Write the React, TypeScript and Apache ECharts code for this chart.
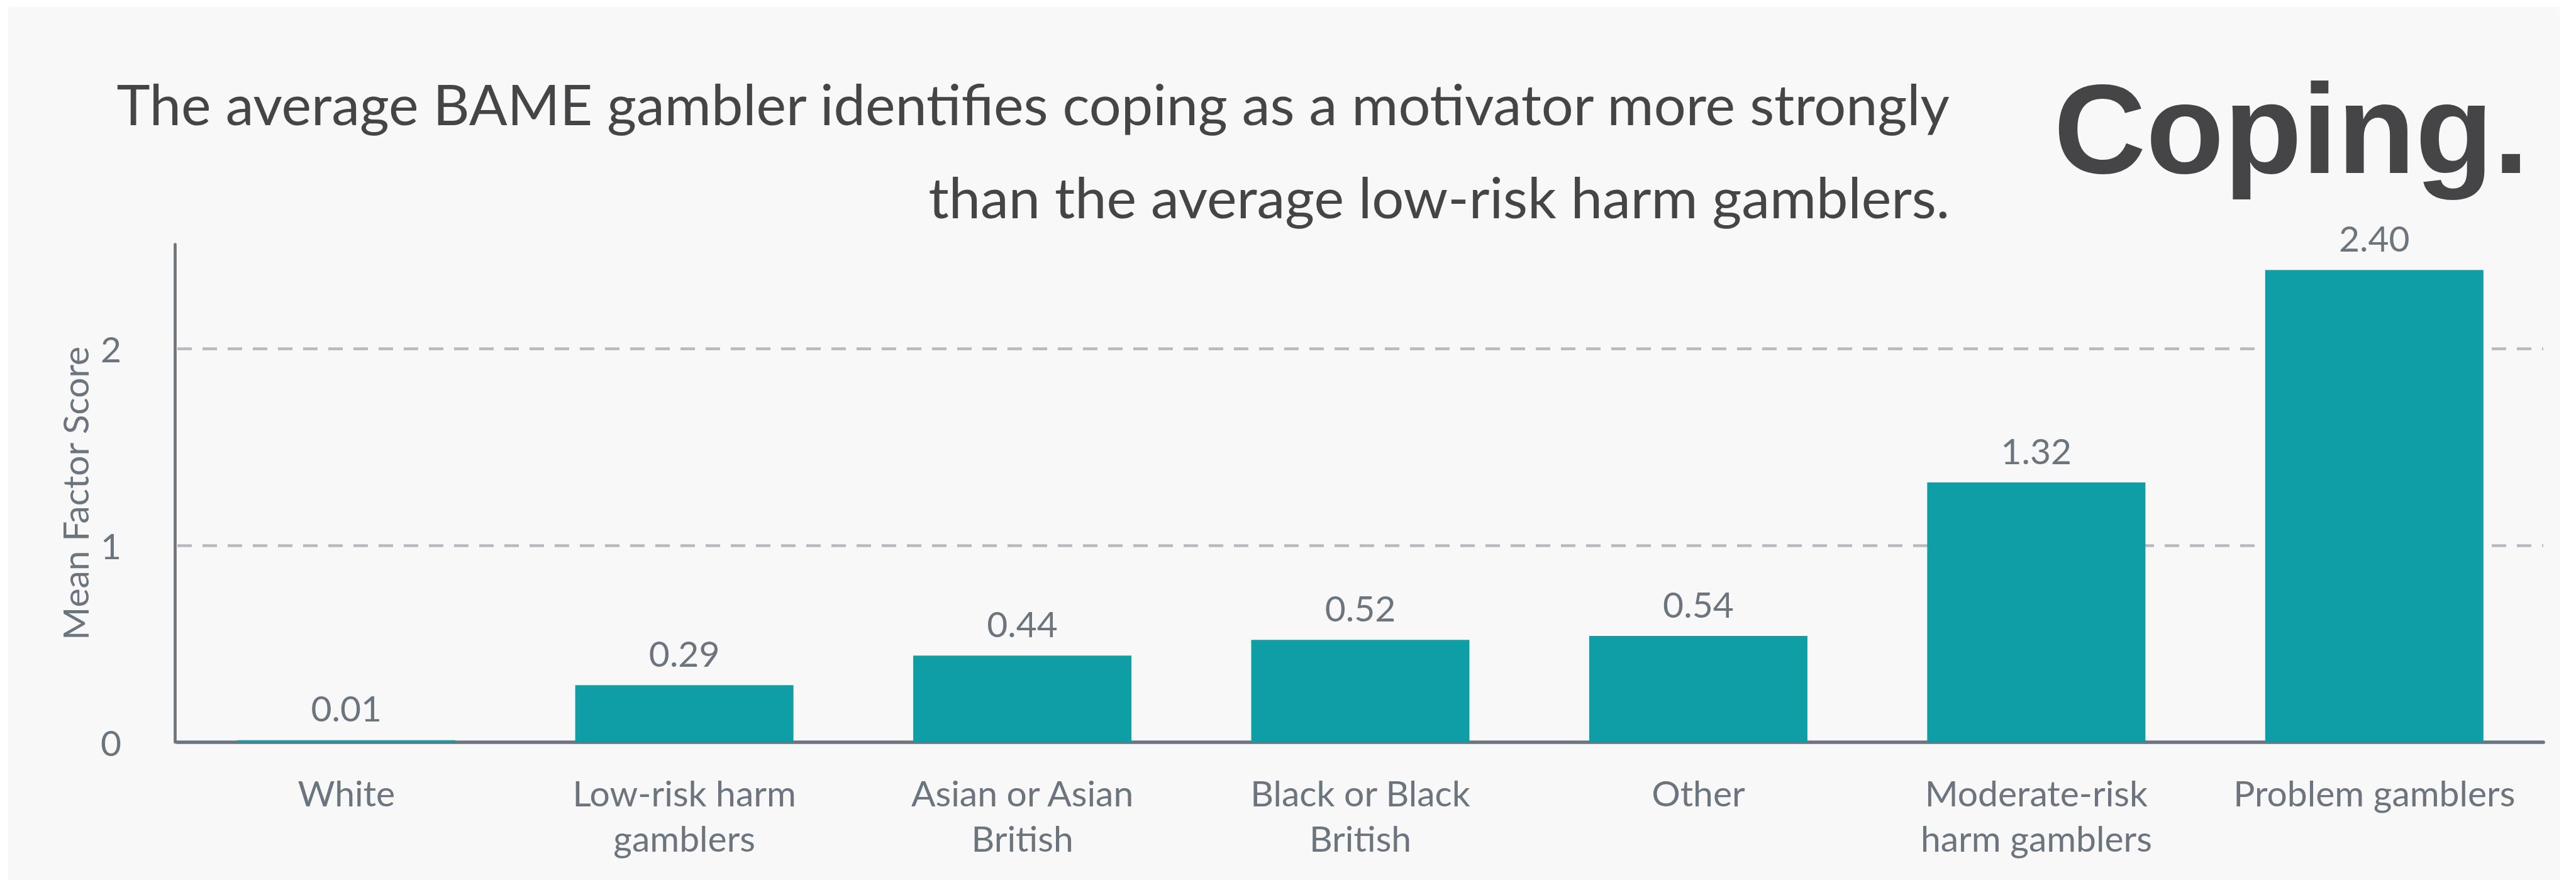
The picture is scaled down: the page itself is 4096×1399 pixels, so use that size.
import React, { useEffect, useRef } from "react";
import * as echarts from "echarts";

const categories = [
  "White",
  "Low-risk harm\ngamblers",
  "Asian or Asian\nBritish",
  "Black or Black\nBritish",
  "Other",
  "Moderate-risk\nharm gamblers",
  "Problem gamblers",
];
const values = [0.01, 0.29, 0.44, 0.52, 0.54, 1.32, 2.4];
const yAxisName = "Mean Factor Score";
const titleLines = [
  "The average BAME gambler identifies coping as a motivator more strongly",
  "than the average low-risk harm gamblers.",
];
const headline = "Coping.";

const GRAY = "#6c757d";
const DARK = "#454547";
const TEAL = "#0f9ea5";
const FONT = "Lato";

export default function App() {
  const ref = useRef<HTMLDivElement>(null);
  useEffect(() => {
    if (!ref.current) return;
    const chart = echarts.init(ref.current, null, { renderer: "svg" });
    chart.setOption({
      animation: false,
      backgroundColor: "#ffffff",
      graphic: [
        {
          type: "rect",
          z: -100,
          shape: { x: 13, y: 11, width: 4057, height: 1400 },
          style: { fill: "#f8f8f8" },
          silent: true,
        },
        {
          type: "text",
          x: 3100,
          y: 164,
          style: {
            text: titleLines[0],
            font: `400 90px ${FONT}`,
            fill: DARK,
            align: "right",
            verticalAlign: "middle",
          },
        },
        {
          type: "text",
          x: 3100,
          y: 312,
          style: {
            text: titleLines[1],
            font: `400 90px ${FONT}`,
            fill: DARK,
            align: "right",
            verticalAlign: "middle",
          },
        },
        {
          type: "text",
          x: 4021,
          y: 204,
          style: {
            text: headline,
            font: `700 203px "Liberation Sans", Arial, sans-serif`,
            fill: DARK,
            align: "right",
            verticalAlign: "middle",
          },
        },
      ],
      grid: { left: 282, right: 52, top: 388.5, bottom: 219 },
      xAxis: {
        type: "category",
        data: categories,
        axisLine: { show: true, lineStyle: { color: GRAY, width: 5.7 } },
        axisTick: { show: false },
        axisLabel: {
          color: GRAY,
          fontFamily: FONT,
          fontSize: 57,
          lineHeight: 72,
          margin: 44,
          interval: 0,
        },
        splitLine: { show: false },
      },
      yAxis: {
        type: "value",
        min: 0,
        max: 2.53,
        interval: 1,
        offset: 4,
        name: yAxisName,
        nameLocation: "middle",
        nameGap: 131,
        nameTextStyle: { color: GRAY, fontFamily: FONT, fontSize: 57 },
        axisLine: { show: true, lineStyle: { color: GRAY, width: 4.7 } },
        axisTick: { show: false },
        axisLabel: {
          color: GRAY,
          fontFamily: FONT,
          fontSize: 57,
          margin: 85,
          showMaxLabel: false,
        },
        splitLine: {
          show: true,
          showMinLine: false,
          showMaxLine: false,
          lineStyle: { color: "#b6b9bd", width: 4.7, type: [23, 17] },
        },
      },
      series: [
        {
          type: "bar",
          data: values,
          barWidth: 347,
          itemStyle: { color: TEAL },
          label: {
            show: true,
            position: "top",
            distance: 23,
            color: GRAY,
            fontFamily: FONT,
            fontSize: 57,
            formatter: (p: any) => Number(p.value).toFixed(2),
          },
        },
      ],
    });
    return () => chart.dispose();
  }, []);
  return (
    <div
      ref={ref}
      style={{ position: "fixed", left: 0, top: 0, width: 4096, height: 1399 }}
    />
  );
}
